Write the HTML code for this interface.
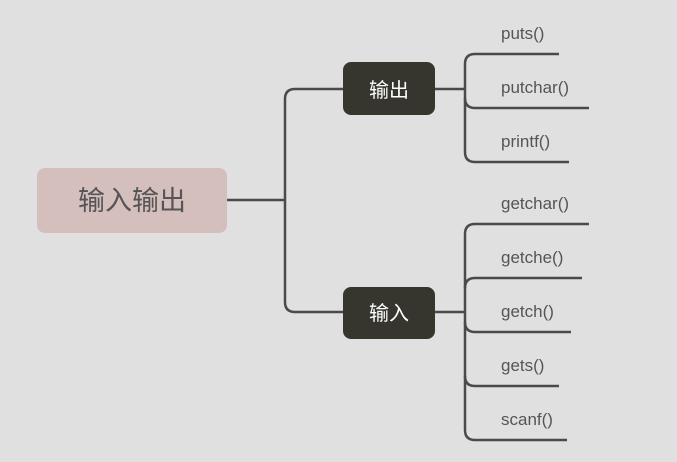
<!DOCTYPE html>
<html><head><meta charset="utf-8"><style>
html,body{margin:0;padding:0;background:#e0e0e0;}
svg{display:block;}
text{font-family:"Liberation Sans","Noto Sans CJK SC",sans-serif;}
</style></head><body>
<svg width="677" height="462" viewBox="0 0 677 462" xmlns="http://www.w3.org/2000/svg">
<rect width="677" height="462" fill="#e0e0e0"/>
<g fill="none" stroke="#4a4a4c" stroke-width="2.5">
<path d="M227 200 H285"/>
<path d="M343 89 H295 Q285 89 285 99 V302 Q285 312 295 312 H343"/>
<path d="M435 89 H465"/>
<path d="M559 54 H475 Q465 54 465 64 V152 Q465 162 475 162 H569"/>
<path d="M465 98 Q465 108 475 108 H589"/>
<path d="M435 312 H465"/>
<path d="M589 224 H475 Q465 224 465 234 V430 Q465 440 475 440 H567"/>
<path d="M465 288 Q465 278 475 278 H582"/>
<path d="M465 322 Q465 332 475 332 H571"/>
<path d="M465 376 Q465 386 475 386 H559"/>
</g>
<rect x="37" y="168" width="190" height="65" rx="8" fill="#d5bfbc"/>
<text x="132" y="210" font-size="27" fill="#555" text-anchor="middle">输入输出</text>
<rect x="343" y="62" width="92" height="53" rx="8" fill="#36362f"/>
<text x="389" y="97" font-size="20" fill="#fff" text-anchor="middle">输出</text>
<rect x="343" y="287" width="92" height="52" rx="8" fill="#36362f"/>
<text x="389" y="320" font-size="20" fill="#fff" text-anchor="middle">输入</text>
<g font-size="17" fill="#555">
<text x="501" y="39">puts()</text>
<text x="501" y="93">putchar()</text>
<text x="501" y="147">printf()</text>
<text x="501" y="209">getchar()</text>
<text x="501" y="263">getche()</text>
<text x="501" y="317">getch()</text>
<text x="501" y="371">gets()</text>
<text x="501" y="425">scanf()</text>
</g>
</svg>
</body></html>
